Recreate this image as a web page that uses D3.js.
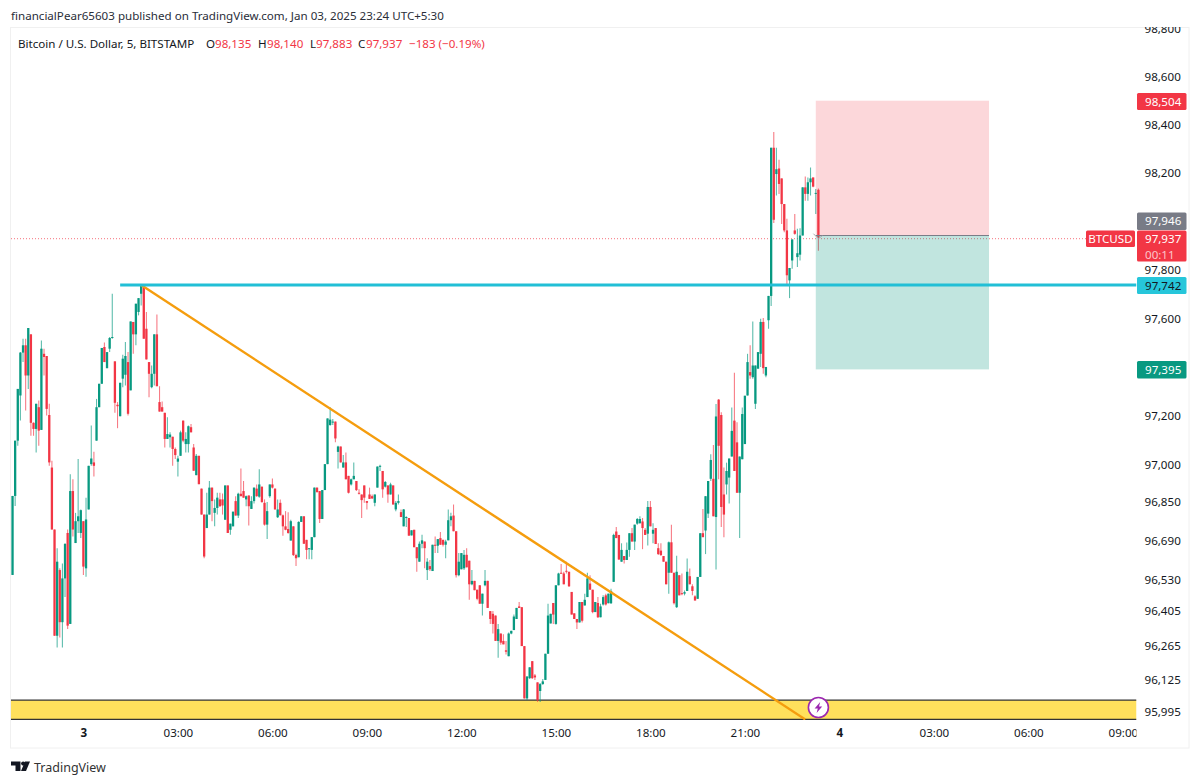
<!DOCTYPE html>
<html>
<head>
    <meta charset="utf-8">
    <title>BTCUSD 5m</title>
    <script src="https://d3js.org/d3.v7.min.js"></script>
    <style>
        html, body { margin: 0; padding: 0; background: #fff; }
        svg { display: block; }
        text { font-family: "Noto Sans", sans-serif; fill: #131722; }
    </style>
</head>
<body>
<script type="text/javascript">
    // candles, 5 minute bars starting Jan 2 21:45
    var opens = [
        96555,96877,97103,97288,97464,97494,97370,97539,97176,97151,
        97240,97147,97459,97450,97208,96993,96740,96308,96575,96363,
        96541,96726,96356,96897,96685,96774,96726,96774,96582,96822,
        97007,97014,97103,97240,97336,97487,97400,97480,97524,97428,
        97250,97203,97357,97373,97425,97309,97590,97539,97631,97706,
        97740,97562,97425,97322,97377,97539,97261,97240,97217,97110,
        97117,97119,97069,97017,97041,97185,97089,97089,97158,97075,
        96962,97041,96907,96801,96746,96801,96911,96808,96828,96863,
        96863,96780,96920,96739,96753,96856,96797,96886,96897,96863,
        96879,96824,96856,96907,96874,96915,96849,96760,96876,96924,
        96907,96790,96849,96798,96753,96742,96695,96753,96636,96627,
        96771,96794,96698,96660,96657,96709,96911,96897,96783,96901,
        97007,97167,97178,97181,97057,97079,96993,97014,96959,96924,
        96945,96938,96890,96883,96920,96856,96883,96876,96849,96911,
        96997,96979,96915,96920,96883,96920,96822,96849,96811,96753,
        96787,96787,96716,96739,96668,96609,96682,96691,96575,96591,
        96571,96678,96674,96705,96698,96678,96696,96778,96797,96733,
        96554,96578,96582,96637,96613,96517,96531,96495,96513,96438,
        96513,96531,96408,96397,96390,96287,96317,96287,96249,96225,
        96317,96331,96376,96427,96424,96266,96054,96136,96205,96147,
        96119,96084,96112,96129,96235,96358,96441,96356,96513,96564,
        96561,96572,96568,96486,96399,96376,96362,96445,96431,96465,
        96520,96495,96404,96441,96383,96435,96472,96440,96440,96527,
        96732,96718,96609,96632,96616,96657,96725,96691,96764,96766,
        96773,96739,96723,96832,96723,96746,96664,96654,96632,96609,
        96564,96688,96564,96424,96554,96481,96479,96490,96550,96509,
        96468,96458,96547,96725,96736,96805,96947,96947,96791,97271,
        97208,96883,96924,96952,97038,97185,97096,96890,97027,97089,
        97288,97384,97363,97254,97398,97459,97590,97370,97597,97697,
        98309,98200,98223,98182,98076,97967,97761,97843,97967,97857,
        97867,97946,98145,98118,98166,98186,98118,98135
    ];
    var closes = [
        96877,97103,97315,97464,97494,97370,97565,97176,97151,97254,
        97144,97480,97446,97233,97014,96740,96308,96609,96363,96541,
        96681,96349,96897,96740,96774,96794,96819,96589,96781,97000,
        97030,97000,97240,97336,97483,97425,97466,97524,97528,97258,
        97244,97340,97439,97450,97213,97592,97539,97665,97688,97740,
        97521,97436,97377,97377,97539,97326,97222,97222,97110,97130,
        97128,97069,97044,97030,97137,97103,97110,97162,97137,96980,
        97041,96925,96801,96630,96801,96911,96856,96828,96870,96835,
        96838,96920,96726,96764,96813,96797,96886,96876,96870,96876,
        96835,96856,96911,96876,96924,96852,96760,96815,96924,96911,
        96822,96822,96798,96753,96739,96726,96774,96636,96623,96771,
        96794,96682,96657,96664,96709,96911,96893,96783,96901,97007,
        97194,97189,97181,97112,97079,97014,97014,96945,96890,96945,
        96959,96901,96887,96860,96870,96849,96865,96867,96883,96997,
        97000,96904,96934,96883,96924,96842,96849,96856,96791,96822,
        96791,96715,96737,96668,96623,96682,96696,96664,96609,96578,
        96678,96674,96701,96678,96678,96691,96778,96794,96733,96554,
        96609,96644,96637,96586,96517,96531,96493,96458,96438,96479,
        96531,96421,96376,96356,96287,96335,96280,96273,96243,96317,
        96328,96386,96421,96421,96266,96054,96143,96180,96136,96139,
        96047,96112,96123,96235,96390,96397,96394,96513,96561,96561,
        96517,96568,96509,96394,96376,96362,96445,96369,96454,96541,
        96495,96404,96445,96383,96427,96465,96435,96479,96490,96718,
        96705,96618,96657,96616,96657,96725,96691,96760,96783,96783,
        96746,96718,96832,96753,96739,96681,96640,96636,96609,96517,
        96688,96564,96440,96568,96472,96479,96485,96568,96517,96490,
        96451,96547,96725,96709,96876,96938,97024,96794,97202,97082,
        96832,96801,96979,97030,97143,96979,96890,97038,97212,97287,
        97425,97370,97411,97411,97466,97590,97400,97405,97697,98309,
        98011,98220,98159,98076,97967,97782,97812,97930,97953,97873,
        97946,98145,98118,98166,98182,98148,98122,97937
    ];
    var highs = [
        96877,97103,97315,97466,97521,97521,97565,97539,97178,97254,
        97267,97514,97480,97450,97254,97021,96740,96664,96582,96602,
        96685,96740,96966,96945,96808,97028,96822,96774,96870,97000,
        97165,97058,97274,97336,97483,97505,97466,97528,97706,97428,
        97261,97340,97455,97507,97466,97592,97590,97665,97688,97743,
        97740,97631,97425,97411,97539,97621,97326,97263,97217,97199,
        97137,97119,97075,97041,97144,97185,97137,97165,97171,97089,
        97048,97041,96907,96801,96890,96938,96911,96863,96890,96890,
        96887,96920,96920,96764,96813,96876,96890,96989,96938,96879,
        96879,96876,96911,96924,96986,96915,96863,96852,96924,96948,
        96907,96863,96863,96801,96815,96811,96780,96753,96641,96774,
        96794,96794,96698,96664,96709,96911,96911,96897,96901,97007,
        97194,97240,97192,97181,97082,97079,97044,97055,96959,96948,
        97014,96938,96904,96883,96920,96856,96911,96883,96883,96997,
        97004,96979,96938,96920,96931,96920,96856,96883,96822,96824,
        96794,96787,96737,96739,96668,96691,96719,96691,96623,96616,
        96678,96712,96701,96730,96698,96698,96822,96808,96842,96733,
        96644,96644,96657,96664,96613,96575,96531,96495,96513,96479,
        96575,96531,96408,96408,96390,96356,96317,96314,96287,96321,
        96328,96394,96421,96445,96424,96266,96143,96180,96205,96153,
        96119,96116,96133,96235,96438,96397,96441,96513,96564,96600,
        96568,96609,96568,96486,96399,96376,96445,96445,96479,96564,
        96554,96495,96445,96465,96438,96472,96479,96479,96499,96723,
        96750,96718,96684,96632,96687,96725,96746,96760,96787,96794,
        96787,96746,96856,96856,96766,96746,96684,96684,96632,96609,
        96691,96760,96564,96633,96554,96561,96492,96622,96581,96517,
        96472,96547,96725,96824,96876,96938,97047,97085,97253,97274,
        97219,96993,97013,97030,97239,97381,97178,97038,97239,97287,
        97459,97494,97592,97411,97466,97603,97606,97405,97697,98309,
        98374,98309,98259,98182,98076,98015,97812,97930,98035,97974,
        97976,98145,98190,98186,98227,98186,98138,98140
    ];
    var lows = [
        96555,96836,97082,97185,97425,97226,97315,97123,97123,97055,
        97082,97147,97370,97206,97000,96740,96308,96260,96301,96260,
        96465,96335,96356,96712,96685,96726,96705,96555,96548,96822,
        97000,96956,97103,97240,97336,97425,97400,97466,97521,97217,
        97154,97203,97322,97329,97206,97309,97459,97494,97617,97658,
        97521,97436,97281,97318,97329,97326,97222,97222,97075,97110,
        97075,97000,97028,96956,97041,97096,97055,97055,97137,96980,
        96962,96925,96801,96623,96746,96801,96774,96753,96801,96833,
        96801,96780,96726,96719,96753,96797,96787,96876,96870,96835,
        96756,96824,96846,96874,96870,96849,96756,96701,96870,96907,
        96822,96787,96798,96715,96737,96723,96695,96632,96591,96627,
        96771,96682,96619,96619,96619,96709,96890,96767,96783,96901,
        97007,97164,97167,97096,96989,97014,96993,96945,96887,96920,
        96945,96897,96883,96787,96849,96822,96865,96865,96835,96911,
        96979,96870,96911,96849,96883,96842,96815,96842,96791,96753,
        96750,96715,96716,96668,96568,96609,96664,96582,96534,96571,
        96571,96644,96644,96678,96671,96623,96696,96753,96733,96545,
        96550,96578,96575,96586,96454,96513,96493,96452,96438,96390,
        96509,96421,96356,96317,96287,96219,96271,96273,96232,96225,
        96314,96331,96376,96421,96266,96054,96047,96133,96133,96129,
        96040,96040,96109,96129,96235,96358,96356,96353,96513,96561,
        96517,96561,96506,96394,96376,96335,96362,96362,96431,96465,
        96495,96399,96404,96380,96383,96431,96431,96440,96437,96527,
        96705,96616,96609,96602,96616,96629,96691,96657,96760,96764,
        96660,96718,96675,96753,96684,96681,96636,96632,96609,96517,
        96479,96564,96435,96421,96472,96472,96472,96490,96517,96472,
        96451,96458,96547,96709,96640,96787,96938,96794,96577,96945,
        96750,96709,96883,96846,97038,96979,96890,96705,97027,97089,
        97288,97357,97357,97233,97398,97405,97377,97363,97562,97656,
        97998,98111,98118,97994,97960,97743,97688,97809,97949,97816,
        97843,97946,98090,98090,98111,98145,98035,97883
    ];

    var priceTicks = [98800,98600,98400,98200,97800,97600,97200,97000,96850,96690,96530,96405,96265,96125,95995];
    var timeTicks = ['2025-01-03T00:00','2025-01-03T03:00','2025-01-03T06:00','2025-01-03T09:00','2025-01-03T12:00','2025-01-03T15:00',
                     '2025-01-03T18:00','2025-01-03T21:00','2025-01-04T00:00','2025-01-04T03:00','2025-01-04T06:00','2025-01-04T09:00'];
    var timeLabels = ['3','03:00','06:00','09:00','12:00','15:00','18:00','21:00','4','03:00','06:00','09:00'];

    // drawings
    var support = 97742;
    var zone = [96047, 95969];
    var trendTimes = ['2025-01-03T01:50','2025-01-03T22:55'];
    var trendPrices = [97742, 95969];
    var stopPrice = 98504, entryPrice = 97946, targetPrice = 97395;
    var positionTimes = ['2025-01-03T23:15','2025-01-04T04:45'];
    var supportStart = '2025-01-03T01:10';

    var green = '#089981', red = '#f23645';
    var plotL = 11, plotR = 1136.5, plotT = 28, plotB = 720;
    var fontSize = '11.6px';

    var svg = d3.select('body').append('svg')
        .attr('width', 1200)
        .attr('height', 784);

    var x = d3.scaleTime()
        .domain([new Date(2025, 0, 3, 0, 0), new Date(2025, 0, 4, 9, 0)])
        .range([83.4, 1122.9]);

    // the chart is in log mode, that's why the ticks are so odd
    var y = d3.scaleLog()
        .domain([95995, 98800])
        .range([713, 29.5]);

    var start = new Date(2025, 0, 2, 21, 45);
    var bars = opens.map(function(o, i) {
        return { t: d3.timeMinute.offset(start, 5 * i), o: o, h: highs[i], l: lows[i], c: closes[i] };
    });

    // card
    svg.append('rect')
        .attr('x', 10.5).attr('y', 27.5)
        .attr('width', 1178.5).attr('height', 720.5)
        .attr('fill', '#fff').attr('stroke', '#f0f0f0');

    var defs = svg.append('defs');
    defs.append('clipPath').attr('id', 'plot').append('rect')
        .attr('x', plotL).attr('y', plotT).attr('width', plotR - plotL).attr('height', plotB - plotT);
    defs.append('clipPath').attr('id', 'xclip').append('rect')
        .attr('x', plotL).attr('y', plotB).attr('width', plotR - plotL).attr('height', 28);
    defs.append('clipPath').attr('id', 'yclip').append('rect')
        .attr('x', plotR).attr('y', plotT - 1).attr('width', 60).attr('height', 720);

    var plot = svg.append('g').attr('clip-path', 'url(#plot)');

    // yellow zone at the bottom
    plot.append('rect')
        .attr('x', plotL).attr('y', y(zone[0]))
        .attr('width', plotR - plotL).attr('height', y(zone[1]) - y(zone[0]))
        .attr('fill', '#ffe05c');
    plot.selectAll('line.zone')
        .data(zone)
        .enter().append('line')
        .attr('class', 'zone')
        .attr('x1', plotL).attr('x2', plotR)
        .attr('y1', function(d) { return y(d); })
        .attr('y2', function(d) { return y(d); })
        .attr('stroke', '#333').attr('stroke-width', 1.4);

    // current price line
    plot.append('line')
        .attr('x1', plotL).attr('x2', 1087)
        .attr('y1', y(closes[closes.length - 1]) + 1).attr('y2', y(closes[closes.length - 1]) + 1)
        .attr('stroke', red).attr('stroke-width', 1)
        .attr('stroke-opacity', 0.7)
        .attr('stroke-dasharray', '1 2');

    // wicks
    plot.selectAll('line.wick')
        .data(bars)
        .enter().append('line')
        .attr('class', 'wick')
        .attr('x1', function(d) { return x(d.t); })
        .attr('x2', function(d) { return x(d.t); })
        .attr('y1', function(d) { return y(d.h); })
        .attr('y2', function(d) { return y(d.l); })
        .attr('stroke', function(d) { return d.c >= d.o ? green : red; })
        .attr('stroke-opacity', 0.65)
        .attr('stroke-width', 1.1);

    // bodies
    plot.selectAll('rect.body')
        .data(bars)
        .enter().append('rect')
        .attr('class', 'body')
        .attr('x', function(d) { return x(d.t) - 1.15; })
        .attr('width', 2.3)
        .attr('y', function(d) { return y(Math.max(d.o, d.c)); })
        .attr('height', function(d) { return Math.max(1, Math.abs(y(d.o) - y(d.c))); })
        .attr('fill', function(d) { return d.c >= d.o ? green : red; });

    // long position box
    var posX0 = x(new Date(positionTimes[0])), posX1 = x(new Date(positionTimes[1]));
    plot.append('rect')
        .attr('x', posX0).attr('y', y(stopPrice))
        .attr('width', posX1 - posX0).attr('height', y(entryPrice) - y(stopPrice))
        .attr('fill', red).attr('fill-opacity', 0.2);
    plot.append('rect')
        .attr('x', posX0).attr('y', y(entryPrice))
        .attr('width', posX1 - posX0).attr('height', y(targetPrice) - y(entryPrice))
        .attr('fill', green).attr('fill-opacity', 0.25);
    plot.append('line')
        .attr('x1', posX0).attr('x2', posX1)
        .attr('y1', y(entryPrice)).attr('y2', y(entryPrice))
        .attr('stroke', '#787b86').attr('stroke-width', 1);

    // trend line
    plot.append('line')
        .attr('x1', x(new Date(trendTimes[0]))).attr('y1', y(trendPrices[0]))
        .attr('x2', x(new Date(trendTimes[1]))).attr('y2', y(trendPrices[1]))
        .attr('stroke', '#f59d0e').attr('stroke-width', 2.4);

    // support line
    plot.append('line')
        .attr('x1', x(new Date(supportStart))).attr('x2', plotR)
        .attr('y1', y(support)).attr('y2', y(support))
        .attr('stroke', '#22bfd6').attr('stroke-width', 3);

    // small arrow on the last bar
    var lastX = x(bars[bars.length - 1].t), lastY = y(closes[closes.length - 1]);
    plot.append('path')
        .attr('d', d3.line()([[lastX - 5, lastY - 4], [lastX, lastY + 1], [lastX + 4, lastY - 2]]))
        .attr('fill', 'none').attr('stroke', '#a9a9b0').attr('stroke-width', 1);

    // lightning marker
    var bolt = svg.append('g').attr('transform', 'translate(' + lastX + ',707.5)');
    bolt.append('circle').attr('r', 10)
        .attr('fill', '#fff').attr('stroke', '#9c27b0').attr('stroke-width', 1.6);
    bolt.append('path')
        .attr('d', 'M1.8,-5.5 L-3.8,1 L-0.6,1 L-1.8,5.5 L3.8,-1 L0.6,-1 Z')
        .attr('fill', '#9c27b0');

    // axes
    var xAxis = d3.axisBottom(x)
        .tickValues(timeTicks.map(function(d) { return new Date(d); }))
        .tickSize(0)
        .tickPadding(0)
        .tickFormat(function(d, i) { return timeLabels[i]; });
    var xg = svg.append('g').attr('clip-path', 'url(#xclip)')
        .append('g')
        .attr('transform', 'translate(0,729)')
        .call(xAxis);
    xg.select('.domain').remove();
    xg.selectAll('text')
        .style('font-family', '"Noto Sans", sans-serif')
        .style('font-size', fontSize)
        .style('font-weight', function(d, i) { return timeLabels[i].length == 1 ? '700' : '400'; });

    var yAxis = d3.axisRight(y)
        .tickValues(priceTicks)
        .tickSize(0)
        .tickPadding(8)
        .tickFormat(d3.format(','));
    var yg = svg.append('g').attr('clip-path', 'url(#yclip)')
        .append('g')
        .attr('transform', 'translate(' + plotR + ',-1)')
        .call(yAxis);
    yg.select('.domain').remove();
    yg.selectAll('text')
        .style('font-family', '"Noto Sans", sans-serif')
        .style('font-size', fontSize);

    // price tags on the axis
    function tag(price, top, h, fill, color) {
        svg.append('rect')
            .attr('x', 1137).attr('y', top).attr('width', 49.5).attr('height', h)
            .attr('rx', 1.5).attr('fill', fill);
        svg.append('text')
            .attr('x', 1145).attr('y', top + 12.8)
            .style('font-size', fontSize).style('fill', color)
            .text(d3.format(',')(price));
    }
    tag(stopPrice, 93, 17, red, '#fff');
    tag(entryPrice, 212.5, 17.5, '#787b86', '#fff');
    tag(closes[closes.length - 1], 230.5, 31, red, '#fff');
    tag(support, 277, 17, '#26c6da', '#131722');
    tag(targetPrice, 361, 17.5, green, '#fff');

    svg.append('text')
        .attr('x', 1145).attr('y', 259)
        .style('font-size', fontSize).style('fill', '#fcc5ca')
        .text('00:11');

    svg.append('rect')
        .attr('x', 1086).attr('y', 230.5).attr('width', 49).attr('height', 16.5)
        .attr('rx', 1.5).attr('fill', red);
    svg.append('text')
        .attr('x', 1110.5).attr('y', 243)
        .attr('text-anchor', 'middle')
        .style('font-size', fontSize).style('fill', '#fff')
        .text('BTCUSD');

    // header and legend
    svg.append('text')
        .attr('x', 11).attr('y', 20)
        .style('font-size', fontSize)
        .style('fill', '#2a2e39')
        .text('financialPear65603 published on TradingView.com, Jan 03, 2025 23:24 UTC+5:30');

    var legend = [
        { x: 18, t: 'Bitcoin / U.S. Dollar, 5, BITSTAMP', c: '#131722' },
        { x: 206, t: 'O', c: '#131722' }, { x: 215, t: '98,135', c: red },
        { x: 258, t: 'H', c: '#131722' }, { x: 267, t: '98,140', c: red },
        { x: 310, t: 'L', c: '#131722' }, { x: 316, t: '97,883', c: red },
        { x: 358, t: 'C', c: '#131722' }, { x: 366, t: '97,937', c: red },
        { x: 409, t: '\u2212183 (\u22120.19%)', c: red }
    ];
    svg.selectAll('text.legend')
        .data(legend)
        .enter().append('text')
        .attr('class', 'legend')
        .attr('x', function(d) { return d.x; })
        .attr('y', 48)
        .style('font-size', fontSize)
        .style('fill', function(d) { return d.c; })
        .text(function(d) { return d.t; });

    // footer logo
    var logo = svg.append('g').attr('fill', '#131722');
    logo.append('path').attr('d', 'M11,761.5 H20.5 V771 H15.5 V765.5 H11 Z');
    logo.append('circle').attr('cx', 23.2).attr('cy', 763.6).attr('r', 2.1);
    logo.append('path').attr('d', 'M25,761.5 H30 L26,771 H21 Z');
    svg.append('text')
        .attr('x', 34).attr('y', 771.5)
        .style('font-size', '12.5px')
        .style('fill', '#333')
        .text('TradingView');
</script>
</body>
</html>
